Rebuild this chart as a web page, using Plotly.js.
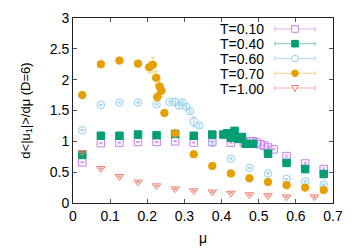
<!DOCTYPE html>
<html><head><meta charset="utf-8">
<script src="https://cdn.plot.ly/plotly-3.0.1.min.js"></script>
<style>body{margin:0;padding:0;background:#fff}#g{width:360px;height:252px}</style>
</head><body><div id="g"></div>
<script>
var labels = ["T=0.10","T=0.40","T=0.60","T=0.70","T=1.00"];
var mu010 = [0.025,0.075,0.125,0.175,0.225,0.275,0.325,0.375,0.425,0.46,0.475,0.485,0.495,0.505,0.515,0.525,0.54,0.575,0.625,0.675];
var v010  = [0.66,0.97,0.98,0.99,0.99,1.00,0.98,0.99,0.98,0.98,1.00,1.00,0.98,0.95,0.93,0.90,0.87,0.76,0.64,0.55];
var e010  = [0.01,0.01,0.01,0.01,0.01,0.01,0.01,0.01,0.01,0.01,0.01,0.01,0.01,0.01,0.01,0.01,0.01,0.02,0.02,0.02];
var mu040 = [0.025,0.075,0.125,0.175,0.225,0.275,0.325,0.375,0.405,0.415,0.425,0.435,0.445,0.455,0.465,0.485,0.525,0.575,0.625,0.675];
var v040  = [0.78,1.09,1.09,1.11,1.10,1.12,1.09,1.11,1.11,1.13,1.06,1.17,1.04,1.07,0.96,0.96,0.80,0.65,0.55,0.47];
var e040  = [0.01,0.01,0.01,0.01,0.01,0.01,0.01,0.01,0.01,0.01,0.01,0.01,0.01,0.01,0.01,0.01,0.01,0.01,0.01,0.01];
var mu060 = [0.025,0.075,0.125,0.175,0.225,0.26,0.275,0.285,0.295,0.305,0.315,0.325,0.34,0.375,0.425,0.475,0.525,0.575,0.625,0.675];
var v060  = [1.18,1.59,1.63,1.63,1.60,1.64,1.64,1.58,1.63,1.56,1.49,1.32,1.26,0.97,0.72,0.57,0.48,0.39,0.35,0.30];
var e060  = [0.01,0.01,0.01,0.01,0.01,0.02,0.05,0.04,0.03,0.03,0.03,0.08,0.03,0.02,0.02,0.01,0.01,0.01,0.01,0.01];
var mu070 = [0.025,0.075,0.125,0.175,0.205,0.215,0.224,0.227,0.233,0.238,0.246,0.275,0.325,0.375,0.425,0.475,0.525,0.575,0.625,0.675];
var v070  = [1.75,2.25,2.31,2.26,2.20,2.24,2.03,1.72,1.89,1.82,1.46,1.13,0.79,0.60,0.48,0.40,0.34,0.29,0.25,0.21];
var e070  = [0.01,0.01,0.01,0.01,0.09,0.12,0.11,0.08,0.11,0.10,0.05,0.02,0.01,0.01,0.01,0.01,0.01,0.01,0.01,0.01];
var mu100 = [0.025,0.075,0.125,0.175,0.225,0.275,0.325,0.375,0.425,0.475,0.525,0.575,0.65];
var v100  = [0.82,0.56,0.43,0.34,0.28,0.23,0.20,0.18,0.16,0.135,0.12,0.10,0.10];
var e100  = [0.01,0.01,0.01,0.01,0.01,0.01,0.01,0.01,0.01,0.01,0.01,0.01,0.01];

var cols = ["#c47ee8","#009e73","#8fcff2","#e69f00","#f07a6a"];
var errc = ["rgba(196,126,232,0.6)","rgba(0,158,115,0.5)","rgba(143,207,242,0.7)","rgba(230,159,0,0.45)","rgba(240,122,106,0.6)"];
var syms = ["square-open-dot","square","circle-open-dot","circle","triangle-down-open-dot"];
var X = [mu010,mu040,mu060,mu070,mu100], Y=[v010,v040,v060,v070,v100], E=[e010,e040,e060,e070,e100];
var traces = [];
for (var i=0;i<5;i++){
  traces.push({x:X[i], y:Y[i], type:'scatter', mode:'markers', name:labels[i], showlegend:false,
    error_y:{type:'data', array:E[i], visible:true, color:errc[i], thickness:1, width:2},
    marker:{symbol:syms[i], size:7.5, color:cols[i], line:{color:cols[i], width:1}}});
}
var shapes=[], annotations=[];
var L=73, R=333, T=18, B=203;
function px(p){return (p-L)/(R-L);} function py(p){return (B-p)/(B-T);}
var rows=[29,43.7,58.5,73.3,88];
for (var i=0;i<5;i++){
  var yy=rows[i];
  annotations.push({xref:'paper',yref:'paper',x:px(266),y:py(yy),xanchor:'right',yanchor:'middle',height:13,text:labels[i],showarrow:false,font:{size:14,color:'#000',family:'Liberation Sans, Arial, sans-serif'}});
  shapes.push({type:'line',xref:'paper',yref:'paper',x0:px(275),x1:px(315),y0:py(yy),y1:py(yy),line:{color:errc[i],width:1}});
  shapes.push({type:'line',xref:'paper',yref:'paper',x0:px(275),x1:px(275),y0:py(yy-2.5),y1:py(yy+2.5),line:{color:errc[i],width:1}});
  shapes.push({type:'line',xref:'paper',yref:'paper',x0:px(315),x1:px(315),y0:py(yy-2.5),y1:py(yy+2.5),line:{color:errc[i],width:1}});
  var cx=295, r=3.3;
  if (i==0||i==1){
    shapes.push({type:'rect',xref:'paper',yref:'paper',x0:px(cx-r),x1:px(cx+r),y0:py(yy-r),y1:py(yy+r),line:{color:cols[i],width:1},fillcolor:i==1?cols[i]:'#fff'});
  } else if (i==2||i==3){
    shapes.push({type:'circle',xref:'paper',yref:'paper',x0:px(cx-r),x1:px(cx+r),y0:py(yy-r),y1:py(yy+r),line:{color:cols[i],width:1},fillcolor:i==3?cols[i]:'#fff'});
  } else {
    shapes.push({type:'path',xref:'paper',yref:'paper',path:'M '+px(cx-r)+' '+py(yy-2.5)+' L '+px(cx+r)+' '+py(yy-2.5)+' L '+px(cx)+' '+py(yy+3.5)+' Z',line:{color:cols[i],width:1},fillcolor:'#fff'});
  }
}
var fnt={family:'Liberation Sans, Arial, sans-serif', size:14, color:'#000'};
var tfnt={family:'Liberation Sans, Arial, sans-serif', size:13, color:'#000'};
var layout={width:360,height:252,margin:{l:73,r:27,t:18,b:49},
  paper_bgcolor:'#fff',plot_bgcolor:'#fff',font:fnt,showlegend:false,
  xaxis:{range:[0,0.7],dtick:0.1,tick0:0,ticks:'inside',ticklen:4,tickcolor:'#555',showline:true,linecolor:'#222',linewidth:1,mirror:'allticks',showgrid:false,zeroline:false,
    tickfont:fnt,title:{text:'μ',font:fnt,standoff:10}},
  yaxis:{range:[0,3],dtick:0.5,tick0:0,ticks:'inside',ticklen:4,tickcolor:'#555',showline:true,linecolor:'#222',linewidth:1,mirror:'allticks',showgrid:false,zeroline:false,
    tickfont:fnt,title:{text:'d<|u<sub>1</sub>|>/dμ (D=6)',font:tfnt,standoff:16}},
  shapes:shapes,annotations:annotations};
Plotly.newPlot('g',traces,layout,{staticPlot:true,displayModeBar:false});
</script></body></html>
